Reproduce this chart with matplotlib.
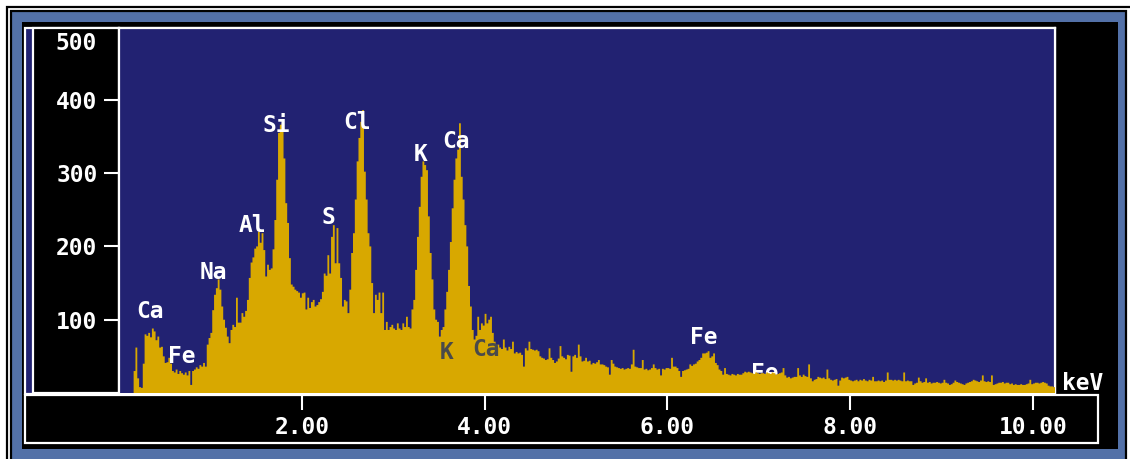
import matplotlib.pyplot as plt
from matplotlib.patches import Rectangle
import numpy as np

W, H = 1130, 459

# EDS spectrum, 20 eV channels from 0 to 10.24 keV (counts)
channel_kev = 0.02
counts = [
    0, 0, 0, 0, 0, 0, 0, 0, 30, 62, 20, 8, 7, 40, 80, 78,
    82, 76, 88, 84, 72, 77, 62, 63, 50, 41, 42, 48, 40, 30, 28, 32,
    26, 30, 27, 25, 28, 24, 30, 11, 30, 32, 35, 33, 38, 36, 41, 36,
    66, 75, 82, 113, 134, 143, 155, 141, 118, 100, 89, 77, 68, 86, 93, 90,
    130, 96, 96, 109, 104, 112, 127, 157, 178, 185, 197, 200, 220, 205, 218, 195,
    159, 175, 168, 170, 196, 236, 291, 355, 366, 368, 320, 259, 232, 184, 148, 145,
    141, 139, 137, 130, 136, 137, 114, 130, 116, 124, 127, 118, 120, 124, 128, 138,
    163, 160, 188, 163, 213, 229, 177, 225, 177, 157, 118, 127, 125, 109, 141, 191,
    218, 264, 316, 348, 370, 386, 302, 264, 218, 200, 150, 109, 134, 127, 137, 109,
    137, 86, 97, 86, 90, 93, 88, 86, 95, 88, 86, 95, 90, 104, 90, 88,
    114, 127, 168, 213, 254, 295, 316, 311, 304, 241, 191, 155, 114, 100, 97, 77,
    86, 90, 114, 138, 168, 206, 252, 291, 320, 332, 368, 295, 264, 229, 200, 146,
    118, 86, 73, 78, 104, 86, 95, 92, 108, 95, 100, 104, 82, 70, 63, 66,
    62, 60, 73, 62, 58, 63, 60, 70, 54, 56, 54, 55, 52, 36, 61, 58,
    70, 60, 59, 58, 59, 57, 50, 48, 47, 45, 46, 61, 48, 45, 41, 43,
    47, 64, 50, 48, 46, 52, 51, 29, 50, 52, 48, 66, 50, 43, 44, 48,
    43, 44, 39, 41, 40, 42, 45, 39, 39, 38, 36, 35, 25, 45, 40, 36,
    35, 34, 33, 34, 32, 33, 34, 33, 39, 59, 36, 35, 34, 34, 45, 32,
    33, 31, 32, 34, 39, 34, 32, 33, 24, 33, 32, 34, 34, 33, 48, 36,
    36, 34, 30, 22, 30, 31, 32, 33, 39, 37, 39, 40, 43, 45, 48, 54,
    54, 55, 57, 48, 50, 54, 41, 38, 32, 30, 25, 34, 26, 25, 24, 26,
    25, 24, 26, 25, 25, 27, 29, 28, 29, 28, 27, 26, 28, 27, 26, 27,
    27, 26, 28, 27, 26, 28, 27, 25, 26, 27, 28, 34, 24, 21, 22, 20,
    21, 22, 22, 34, 24, 22, 25, 23, 22, 39, 20, 16, 18, 19, 22, 21,
    20, 21, 19, 32, 20, 18, 17, 18, 19, 10, 17, 21, 20, 21, 22, 18,
    17, 16, 17, 18, 16, 18, 17, 19, 17, 16, 18, 17, 22, 16, 16, 17,
    16, 17, 15, 17, 28, 18, 18, 17, 18, 17, 18, 17, 16, 28, 16, 17,
    16, 16, 11, 13, 14, 21, 16, 14, 15, 20, 14, 15, 13, 14, 14, 15,
    14, 13, 14, 18, 14, 13, 11, 12, 14, 17, 15, 14, 13, 12, 11, 13,
    14, 15, 16, 18, 17, 16, 15, 17, 24, 16, 15, 16, 15, 24, 11, 12,
    13, 14, 14, 15, 13, 14, 14, 12, 13, 11, 12, 11, 11, 12, 11, 11,
    12, 13, 18, 12, 13, 14, 14, 13, 14, 15, 14, 13, 10, 9, 9, 8,
]

# peak markers
peak_names = ['Ca', 'Fe', 'Na', 'Al', 'Si', 'S', 'Cl', 'K', 'Ca', 'Fe']
peak_kev = [0.34, 0.69, 1.03, 1.46, 1.72, 2.29, 2.60, 3.30, 3.69, 6.40]
peak_level = [111, 50, 165, 229, 365, 239, 369, 325, 343, 76]

# escape peaks (drawn dark on the spectrum)
escape_names = ['K', 'Ca']
escape_kev = [3.58, 4.01]
escape_level = [55, 59]

# Fe K-beta marker, half hidden behind the spectrum
hidden_names = ['Fe']
hidden_kev = [7.07]
hidden_level = [26]

x_ticks = [2, 4, 6, 8, 10]
x_ticklabels = ['2.00', '4.00', '6.00', '8.00', '10.00']
y_ticks = [100, 200, 300, 400]
y_ticklabels = ['100', '200', '300', '400']

NAVY = '#222272'
GOLD = '#d8a800'
FRAME = '#5371a8'
FONT = dict(family='DejaVu Sans Mono', weight='bold', size=16.5)

fig = plt.figure(figsize=(W / 100, H / 100), dpi=100)
fig.patch.set_facecolor('white')


def box(x0, y0, x1, y1, z, **kw):
    """Rectangle in screen pixels (origin top-left)."""
    r = Rectangle((x0 / W, 1 - y1 / H), (x1 - x0) / W, (y1 - y0) / H,
                  transform=fig.transFigure, zorder=z, **kw)
    fig.add_artist(r)


# instrument window frame
box(6.5, 6.5, 1135, 470, -10, facecolor='white', edgecolor='black', lw=1.6)
box(11, 11, 1126, 470, -9, facecolor=FRAME, edgecolor='black', lw=1.6)
box(22, 22, 1118, 449, -8, facecolor='black', edgecolor='none')
box(25, 27.5, 1055, 394, -7, facecolor=NAVY, edgecolor='white', lw=1.6)
box(32.5, 28, 119, 393, -6, facecolor='black', edgecolor='white', lw=1.6)
box(25, 394.5, 1097.5, 442.5, -6, facecolor='black', edgecolor='white', lw=1.6)

ax = fig.add_axes([119 / W, 1 - 393 / H, (1055 - 119) / W, (393 - 28) / H])
ax.set_facecolor(NAVY)

edges = np.arange(len(counts) + 1) * channel_kev
ax.stairs(counts, edges, fill=True, color=GOLD, lw=0, zorder=3)

for name, xk, yv in zip(peak_names, peak_kev, peak_level):
    ax.text(xk, yv, name, color='white', ha='center', va='center', zorder=4, **FONT)
for name, xk, yv in zip(escape_names, escape_kev, escape_level):
    ax.text(xk, yv, name, color='#4a4a4a', ha='center', va='center', zorder=4, **FONT)
for name, xk, yv in zip(hidden_names, hidden_kev, hidden_level):
    ax.text(xk, yv, name, color='white', ha='center', va='center', zorder=2, **FONT)

ax.set_xlim(0, 10.24)
ax.set_ylim(0, 498)

ax.set_xticks(x_ticks)
ax.set_xticklabels(x_ticklabels, **FONT)
ax.set_yticks(y_ticks)
ax.set_yticklabels(y_ticklabels, **FONT)
ax.tick_params(axis='x', colors='white', direction='out', length=12.5, width=1.5, pad=4)
ax.tick_params(axis='y', colors='white', direction='out', length=10.5, width=1.5, pad=5)

for side in ['left', 'right', 'top']:
    ax.spines[side].set_color('white')
    ax.spines[side].set_linewidth(1.6)
ax.spines['bottom'].set_visible(False)

# top count label and energy unit sit outside the axes
fig.text(97 / W, 1 - 43 / H, '500', color='white', ha='right', va='center', **FONT)
fig.text(1062 / W, 1 - 383 / H, 'keV', color='white', ha='left', va='center', **FONT)

fig.savefig('out.png', dpi=100, facecolor=fig.get_facecolor())
